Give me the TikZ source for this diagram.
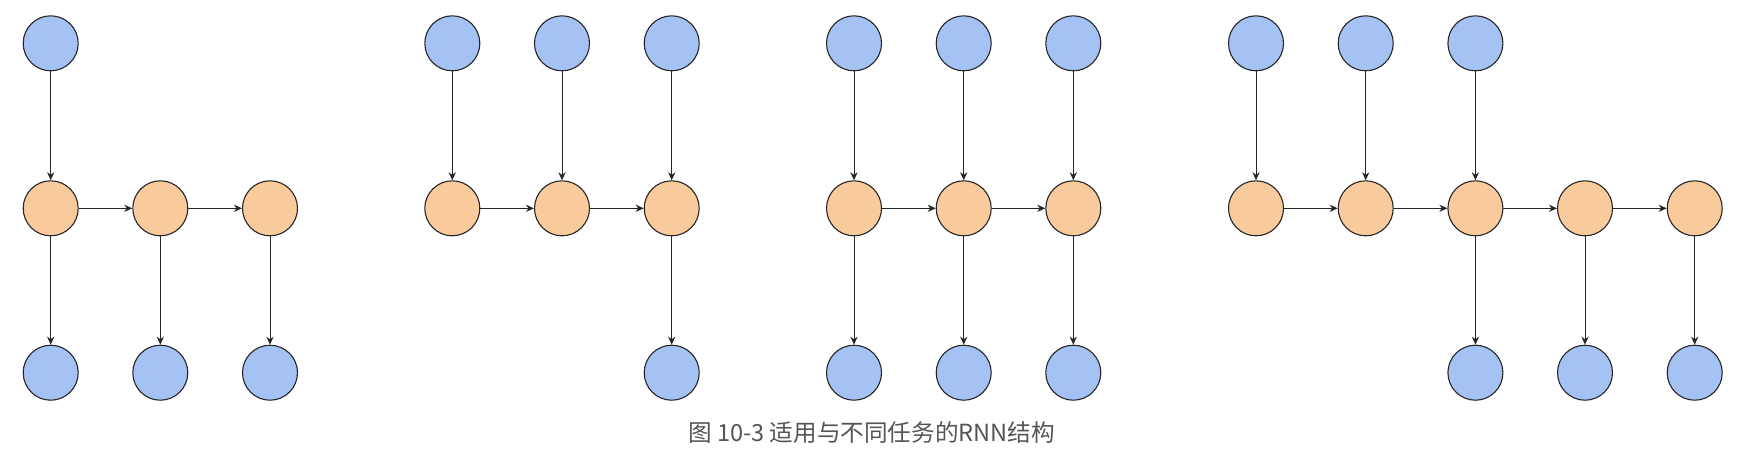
\documentclass[tikz,border=0pt]{standalone}
\usepackage{fontspec}
\newfontfamily\cjk{Noto Sans CJK SC}
\usetikzlibrary{arrows.meta}
\definecolor{inblue}{HTML}{A4C2F4}
\definecolor{hidorange}{HTML}{F9CB9C}
\definecolor{capgray}{HTML}{555555}
\begin{document}
\begin{tikzpicture}[x=0.5pt,y=-0.5pt,
  cell/.style={circle,draw=black!85,line width=0.55pt,inner sep=0pt,minimum size=27.5pt},
  io/.style={cell,fill=inblue},
  hid/.style={cell,fill=hidorange},
  conn/.style={-{Stealth[length=4pt,width=3.6pt]},line width=0.5pt,draw=black!85}]
\useasboundingbox (0,0) rectangle (1749,457);
% Group 1: one to many
\node[io]  (a1) at (50.7,43.3) {};
\foreach \i/\x in {1/50.7,2/160.3,3/270}{
  \node[hid] (ah\i) at (\x,208.3) {};
  \node[io]  (ao\i) at (\x,372.7) {};
  \draw[conn] (ah\i) -- (ao\i);
}
\draw[conn] (a1) -- (ah1);
\draw[conn] (ah1) -- (ah2);
\draw[conn] (ah2) -- (ah3);
% Group 2: many to one
\foreach \i/\x in {1/452.3,2/562,3/671.7}{
  \node[io]  (bi\i) at (\x,43.3) {};
  \node[hid] (bh\i) at (\x,208.3) {};
  \draw[conn] (bi\i) -- (bh\i);
}
\node[io] (bo3) at (671.7,372.7) {};
\draw[conn] (bh3) -- (bo3);
\draw[conn] (bh1) -- (bh2);
\draw[conn] (bh2) -- (bh3);
% Group 3: many to many (synced)
\foreach \i/\x in {1/854,2/963.7,3/1073.3}{
  \node[io]  (ci\i) at (\x,43.3) {};
  \node[hid] (ch\i) at (\x,208.3) {};
  \node[io]  (co\i) at (\x,372.7) {};
  \draw[conn] (ci\i) -- (ch\i);
  \draw[conn] (ch\i) -- (co\i);
}
\draw[conn] (ch1) -- (ch2);
\draw[conn] (ch2) -- (ch3);
% Group 4: encoder-decoder
\foreach \i/\x in {1/1256,2/1365.7,3/1475.4,4/1585,5/1694.7}{
  \node[hid] (dh\i) at (\x,208.3) {};
}
\foreach \i/\x in {1/1256,2/1365.7,3/1475.4}{
  \node[io] (di\i) at (\x,43.3) {};
  \draw[conn] (di\i) -- (dh\i);
}
\foreach \i/\x in {3/1475.4,4/1585,5/1694.7}{
  \node[io] (do\i) at (\x,372.7) {};
  \draw[conn] (dh\i) -- (do\i);
}
\draw[conn] (dh1) -- (dh2);
\draw[conn] (dh2) -- (dh3);
\draw[conn] (dh3) -- (dh4);
\draw[conn] (dh4) -- (dh5);
% caption
\node[font=\cjk\fontsize{11.8pt}{14pt}\selectfont,text=capgray,inner sep=0pt] (cap) at (871.7,433) {图 10-3 适用与不同任务的RNN结构};
\end{tikzpicture}
\end{document}
